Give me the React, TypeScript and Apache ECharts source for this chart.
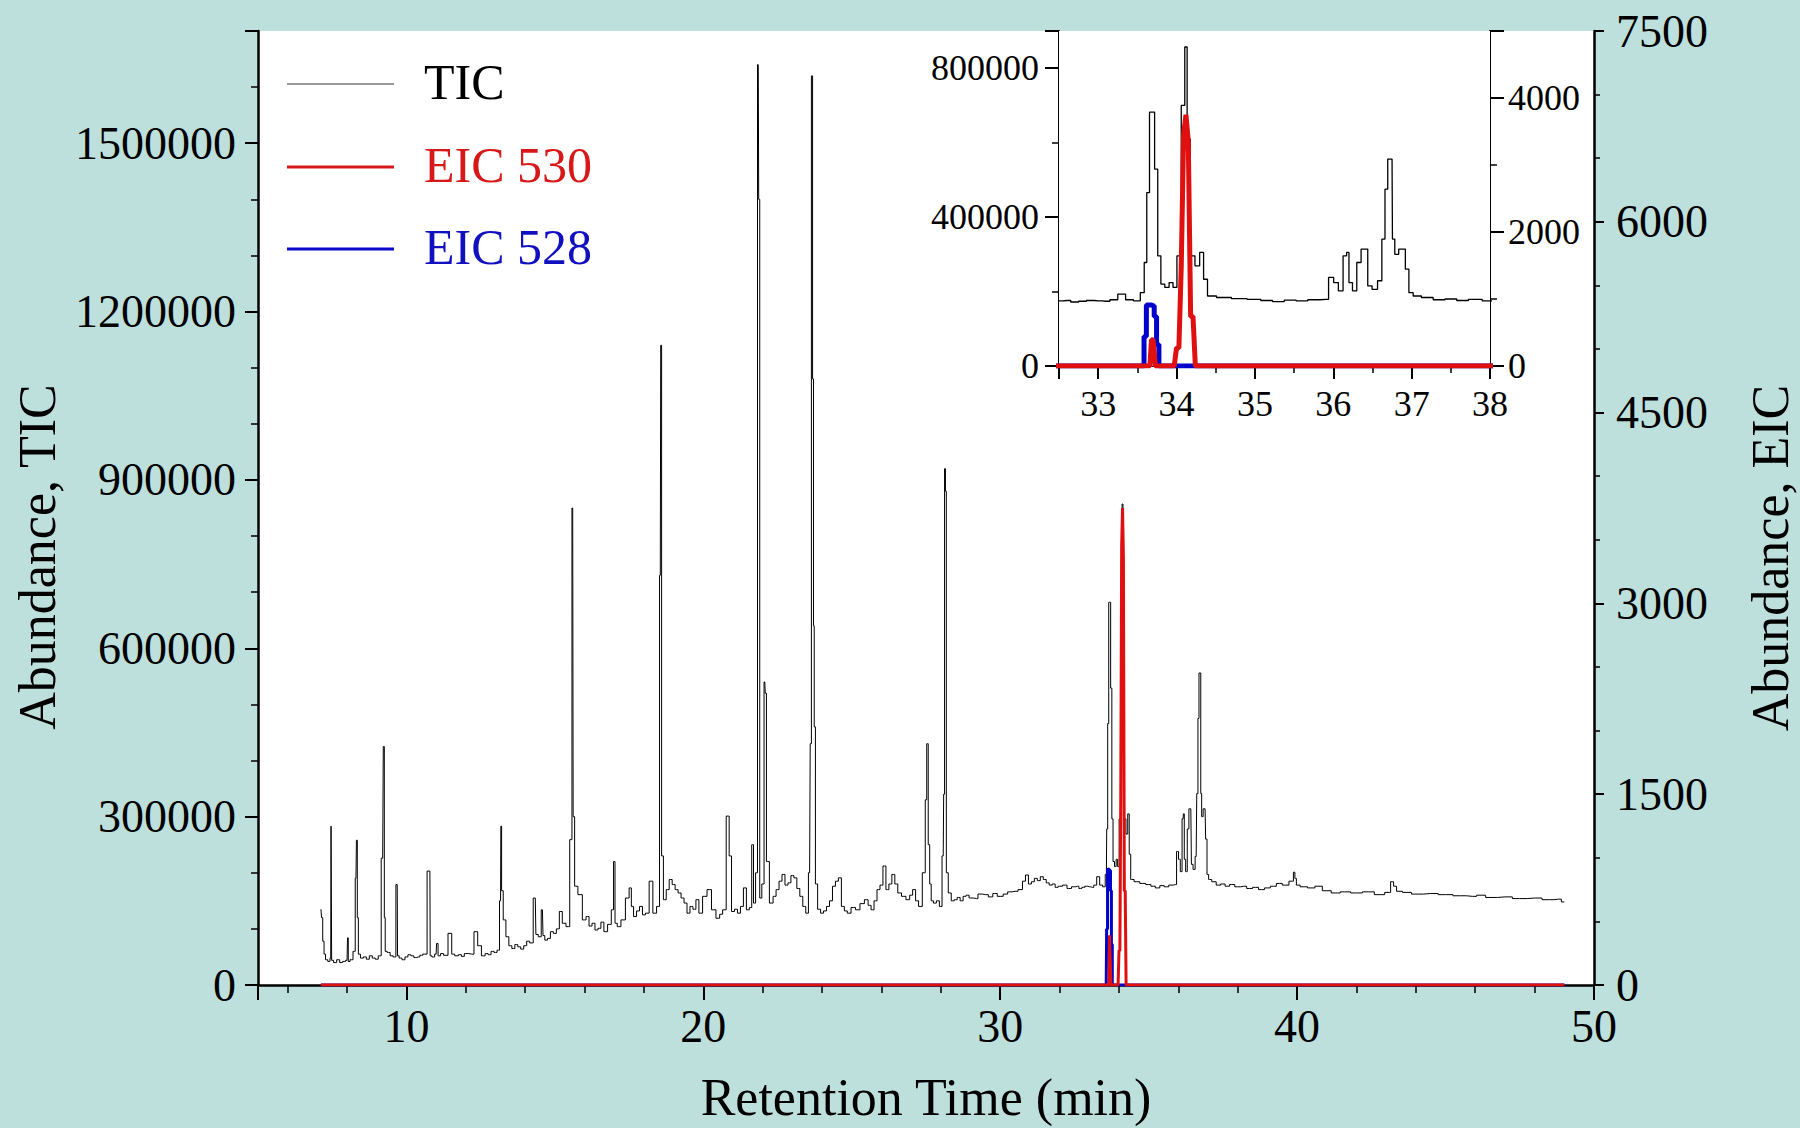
import React, { useEffect, useRef } from "react";
import * as echarts from "echarts";

// ---------- DATA ----------
// Total ion chromatogram: retention time (min)
const ticTime = [
  7.12, 7.16, 7.2, 7.25, 7.3, 7.4, 7.45, 7.47, 7.49, 7.6,
  7.7, 7.8, 7.9, 8.0, 8.03, 8.05, 8.15, 8.25, 8.3, 8.33,
  8.36, 8.4, 8.5, 8.6, 8.7, 8.8, 8.9, 9.0, 9.1, 9.2,
  9.24, 9.27, 9.3, 9.4, 9.5, 9.6, 9.69, 9.71, 9.8, 9.9,
  10.0, 10.1, 10.2, 10.3, 10.4, 10.5, 10.6, 10.79, 10.81, 10.9,
  11.0, 11.03, 11.1, 11.2, 11.3, 11.5, 11.55, 11.7, 11.8, 11.9,
  12.0, 12.2, 12.35, 12.45, 12.6, 12.7, 12.8, 12.9, 13.0, 13.1,
  13.17, 13.19, 13.22, 13.3, 13.4, 13.5, 13.6, 13.7, 13.8, 13.9,
  14.0, 14.1, 14.2, 14.34, 14.38, 14.5, 14.58, 14.62, 14.7, 14.8,
  14.9, 15.0, 15.1, 15.2, 15.3, 15.45, 15.55, 15.6, 15.63, 15.7,
  15.85, 16.0, 16.1, 16.2, 16.3, 16.4, 16.5, 16.6, 16.7, 16.85,
  16.95, 17.0, 17.05, 17.15, 17.3, 17.45, 17.55, 17.6, 17.7, 17.8,
  17.9, 18.0, 18.1, 18.25, 18.35, 18.5, 18.55, 18.58, 18.61, 18.7,
  18.8, 18.9, 19.0, 19.1, 19.2, 19.3, 19.4, 19.5, 19.6, 19.7,
  19.8, 19.9, 20.05, 20.2, 20.35, 20.5, 20.6, 20.7, 20.84, 20.9,
  21.0, 21.1, 21.2, 21.3, 21.4, 21.5, 21.6, 21.66, 21.72, 21.8,
  21.85, 21.88, 21.92, 22.02, 22.07, 22.1, 22.15, 22.3, 22.4, 22.5,
  22.6, 22.7, 22.8, 22.9, 23.0, 23.1, 23.2, 23.3, 23.4, 23.5,
  23.58, 23.62, 23.66, 23.7, 23.72, 23.75, 23.8, 23.9, 24.0, 24.1,
  24.2, 24.3, 24.4, 24.5, 24.6, 24.7, 24.8, 24.9, 25.05, 25.2,
  25.35, 25.5, 25.6, 25.7, 25.8, 25.9, 26.0, 26.1, 26.2, 26.3,
  26.4, 26.5, 26.6, 26.75, 26.9, 27.0, 27.1, 27.2, 27.3, 27.45,
  27.5, 27.55, 27.6, 27.65, 27.7, 27.8, 27.9, 28.0, 28.08, 28.11,
  28.14, 28.17, 28.2, 28.3, 28.4, 28.5, 28.6, 28.7, 28.8, 28.9,
  29.0, 29.2, 29.3, 29.5, 29.7, 29.8, 30.0, 30.2, 30.3, 30.5,
  30.7, 30.8, 30.9, 31.0, 31.1, 31.2, 31.3, 31.4, 31.5, 31.6,
  31.7, 31.8, 31.9, 32.0, 32.2, 32.3, 32.5, 32.6, 32.7, 32.8,
  32.9, 33.0, 33.1, 33.2, 33.3, 33.4, 33.5, 33.575, 33.6, 33.64,
  33.67, 33.7, 33.74, 33.78, 33.82, 33.88, 33.93, 33.98, 34.03, 34.09,
  34.12, 34.15, 34.2, 34.27, 34.32, 34.37, 34.42, 34.6, 34.8, 35.0,
  35.15, 35.3, 35.45, 35.6, 35.75, 35.91, 35.97, 36.04, 36.09, 36.16,
  36.18, 36.22, 36.27, 36.33, 36.38, 36.42, 36.46, 36.53, 36.6, 36.64,
  36.68, 36.71, 36.75, 36.76, 36.81, 36.86, 36.9, 36.94, 36.99, 37.05,
  37.2, 37.35, 37.5, 37.65, 37.8, 38.0, 38.2, 38.4, 38.6, 38.8,
  39.0, 39.2, 39.4, 39.6, 39.85, 39.9, 39.95, 40.0, 40.2, 40.5,
  40.7, 41.0, 41.3, 41.6, 42.0, 42.4, 42.8, 43.1, 43.2, 43.3,
  43.4, 43.7, 44.0, 44.5, 45.0, 45.5, 45.9, 46.2, 46.5, 47.0,
  47.5, 48.0, 48.5, 48.8, 49.0,
];
// Total ion chromatogram: abundance
const ticValue = [
  135000, 120000, 78000, 55000, 45000, 42000, 48000, 283000, 44000, 40000,
  45000, 40000, 42000, 44000, 84000, 42000, 45000, 60000, 190000, 258000,
  120000, 55000, 48000, 50000, 46000, 52000, 48000, 46000, 52000, 226000,
  425000, 120000, 60000, 58000, 52000, 50000, 179000, 52000, 48000, 45000,
  50000, 54000, 52000, 49000, 50000, 53000, 55000, 203000, 52000, 50000,
  55000, 74000, 52000, 56000, 53000, 92000, 55000, 52000, 54000, 51000,
  56000, 55000, 95000, 70000, 52000, 56000, 54000, 60000, 58000, 62000,
  150000, 283000, 168000, 116000, 86000, 70000, 65000, 72000, 68000, 64000,
  70000, 78000, 75000, 155000, 90000, 86000, 134000, 88000, 80000, 83000,
  95000, 92000, 100000, 131000, 110000, 104000, 259000, 850000, 300000, 176000,
  161000, 116000, 122000, 105000, 110000, 98000, 101000, 112000, 95000, 108000,
  134000, 220000, 110000, 104000, 116000, 155000, 173000, 140000, 122000, 132000,
  140000, 125000, 128000, 185000, 128000, 140000, 730000, 1140000, 230000, 152000,
  170000, 188000, 179000, 170000, 164000, 155000, 146000, 128000, 140000, 135000,
  152000, 128000, 158000, 170000, 134000, 119000, 126000, 134000, 301000, 230000,
  131000, 135000, 128000, 140000, 173000, 134000, 138000, 250000, 146000, 200000,
  1640000, 1400000, 155000, 180000, 540000, 520000, 220000, 146000, 158000, 170000,
  185000, 197000, 178000, 182000, 195000, 191000, 172000, 158000, 140000, 128000,
  200000, 430000, 1620000, 1080000, 640000, 460000, 180000, 135000, 128000, 132000,
  140000, 150000, 176000, 185000, 191000, 140000, 132000, 128000, 138000, 134000,
  145000, 152000, 142000, 134000, 150000, 170000, 178000, 212000, 170000, 180000,
  197000, 180000, 164000, 158000, 152000, 160000, 170000, 150000, 140000, 200000,
  330000, 430000, 250000, 180000, 150000, 146000, 150000, 140000, 230000, 340000,
  920000, 880000, 200000, 164000, 150000, 152000, 156000, 150000, 158000, 160000,
  155000, 154000, 162000, 161000, 157000, 163000, 158000, 162000, 166000, 167000,
  170000, 185000, 196000, 180000, 184000, 190000, 186000, 193000, 188000, 182000,
  178000, 180000, 174000, 176000, 178000, 172000, 175000, 176000, 172000, 174000,
  176000, 175000, 174000, 178000, 193000, 178000, 175000, 197000, 278000, 466000,
  682000, 682000, 529000, 296000, 220000, 211000, 224000, 211000, 296000, 700000,
  857000, 610000, 296000, 269000, 305000, 233000, 188000, 184000, 181000, 179000,
  176000, 173000, 177000, 175000, 178000, 179000, 238000, 224000, 202000, 296000,
  305000, 224000, 202000, 278000, 314000, 314000, 215000, 206000, 229000, 341000,
  475000, 556000, 556000, 341000, 300000, 314000, 314000, 260000, 197000, 188000,
  184000, 178000, 180000, 176000, 179000, 175000, 176000, 172000, 174000, 170000,
  173000, 176000, 181000, 178000, 185000, 201000, 190000, 178000, 175000, 173000,
  176000, 168000, 164000, 166000, 164000, 166000, 161000, 165000, 184000, 176000,
  167000, 165000, 162000, 163000, 161000, 159000, 158000, 160000, 156000, 157000,
  154000, 155000, 152000, 153000, 148000,
];

// Extracted ion chromatogram m/z 530
const eic530Time = [7.12, 33.62, 33.66, 33.68, 33.7, 33.73, 33.97, 34.0, 34.03, 34.06, 34.09, 34.12, 34.15, 34.18, 34.21, 34.24, 34.26, 49.0];
const eic530Value = [0, 0, 0, 390, 390, 0, 0, 270, 270, 1480, 3450, 3750, 3350, 740, 740, 0, 0, 0];

// Extracted ion chromatogram m/z 528
const eic528Time = [7.12, 33.57, 33.6, 33.63, 33.66, 33.7, 33.73, 33.76, 33.79, 49.0];
const eic528Value = [0, 0, 440, 910, 910, 900, 740, 320, 0, 0];

const legendNames = ["TIC", "EIC 530", "EIC 528"];
const axisTitles = { x: "Retention Time (min)", yLeft: "Abundance, TIC", yRight: "Abundance, EIC" };

// ---------- STYLE ----------
const FONT = "'Liberation Serif', 'Times New Roman', serif";
const BG = "#BEE0DC";
const RED = "#E01010";
const BLUE = "#0000CC";
const BLACK = "#000000";

const pairs = (t: number[], v: number[]) => t.map((x, i) => [x, v[i]]);

function axisCommon(fontSize: number, lineW: number, tickLen: number, minorLen: number, minorSplit: number, margin: number, fmt: (v: number) => string) {
  return {
    axisLine: { show: true, onZero: false, lineStyle: { color: BLACK, width: lineW } },
    axisTick: { show: true, inside: false, length: tickLen, lineStyle: { color: BLACK, width: 2 } },
    minorTick: { show: true, splitNumber: minorSplit, length: minorLen, lineStyle: { color: BLACK, width: 1.5 } },
    axisLabel: { show: true, fontSize, fontFamily: FONT, color: BLACK, margin, formatter: fmt },
    splitLine: { show: false },
    minorSplitLine: { show: false },
  };
}

export default function App() {
  const ref = useRef<HTMLDivElement>(null);

  useEffect(() => {
    if (!ref.current) return;
    const chart = echarts.init(ref.current, null, { renderer: "svg" });

    const tic = pairs(ticTime, ticValue);
    const e530 = pairs(eic530Time, eic530Value);
    const e528 = pairs(eic528Time, eic528Value);

    const legendY = [84, 167, 249];
    const legendColors = ["#9A9A9A", "#D81818", "#0A0AC8"];
    const legendTextColors = ["#000000", "#D81818", "#1010C0"];
    const legendLineW = [2, 3, 3];

    const graphic: any[] = [];
    legendNames.forEach((name, i) => {
      graphic.push({
        type: "line",
        shape: { x1: 287, y1: legendY[i], x2: 394, y2: legendY[i] },
        style: { stroke: legendColors[i], lineWidth: legendLineW[i] },
        z: 100,
      });
      graphic.push({
        type: "text",
        x: 424,
        y: legendY[i] - 2,
        style: {
          text: name,
          fontSize: 50,
          fontFamily: FONT,
          fill: legendTextColors[i],
          align: "left",
          verticalAlign: "middle",
        },
        z: 100,
      });
    });
    graphic.push({
      type: "text",
      x: 37,
      y: 557,
      rotation: Math.PI / 2,
      style: { text: axisTitles.yLeft, fontSize: 52, fontFamily: FONT, fill: BLACK, align: "center", verticalAlign: "middle" },
    });
    graphic.push({
      type: "text",
      x: 1770,
      y: 558,
      rotation: Math.PI / 2,
      style: { text: axisTitles.yRight, fontSize: 52, fontFamily: FONT, fill: BLACK, align: "center", verticalAlign: "middle" },
    });

    const option: any = {
      animation: false,
      backgroundColor: BG,
      textStyle: { fontFamily: FONT },
      grid: [
        { left: 258, right: 206, top: 31, bottom: 140, show: true, backgroundColor: "#FFFFFF", borderWidth: 0 },
        { left: 1059, right: 310, top: 31, height: 335, show: true, backgroundColor: "#FFFFFF", borderWidth: 0, z: 3 },
      ],
      xAxis: [
        {
          type: "value",
          gridIndex: 0,
          min: 5,
          max: 50,
          splitNumber: 5,
          name: axisTitles.x,
          nameLocation: "middle",
          nameGap: 86,
          nameTextStyle: { fontSize: 52, fontFamily: FONT, color: BLACK },
          ...axisCommon(46, 2.5, 15, 8, 5, 18, (v: number) => (v % 10 === 0 ? String(v) : "")),
        },
        {
          type: "value",
          gridIndex: 1,
          min: 32.5,
          max: 38,
          splitNumber: 5,
          ...axisCommon(36, 2, 13, 7, 2, 20, (v: number) => (Number.isInteger(v) ? String(v) : "")),
        },
      ],
      yAxis: [
        {
          type: "value",
          gridIndex: 0,
          position: "left",
          min: 0,
          max: 1700000,
          interval: 300000,
          ...axisCommon(46, 2.5, 13, 7, 3, 22, (v: number) => (v % 300000 === 0 ? String(v) : "")),
        },
        {
          type: "value",
          gridIndex: 0,
          position: "right",
          min: 0,
          max: 7500,
          interval: 1500,
          ...axisCommon(46, 2.5, 10, 6, 3, 22, (v: number) => String(v)),
        },
        {
          type: "value",
          gridIndex: 1,
          position: "left",
          min: 0,
          max: 900000,
          interval: 400000,
          ...axisCommon(36, 2, 14, 7, 2, 20, (v: number) => (v % 400000 === 0 ? String(v) : "")),
        },
        {
          type: "value",
          gridIndex: 1,
          position: "right",
          min: 0,
          max: 5000,
          interval: 2000,
          ...axisCommon(36, 2, 14, 7, 2, 18, (v: number) => (v % 2000 === 0 ? String(v) : "")),
        },
      ],
      series: [
        {
          name: "TIC",
          type: "line",
          xAxisIndex: 0,
          yAxisIndex: 0,
          data: tic,
          step: "middle",
          symbol: "none",
          showSymbol: false,
          silent: true,
          lineStyle: { color: BLACK, width: 1 },
          z: 2,
        },
        {
          name: "EIC 528",
          type: "line",
          xAxisIndex: 0,
          yAxisIndex: 1,
          data: e528,
          step: "middle",
          symbol: "none",
          showSymbol: false,
          silent: true,
          lineStyle: { color: BLUE, width: 3 },
          z: 3,
        },
        {
          name: "EIC 530",
          type: "line",
          xAxisIndex: 0,
          yAxisIndex: 1,
          data: e530,
          symbol: "none",
          showSymbol: false,
          silent: true,
          lineStyle: { color: RED, width: 3 },
          z: 4,
        },
        {
          name: "TIC inset",
          type: "line",
          xAxisIndex: 1,
          yAxisIndex: 2,
          data: tic,
          step: "middle",
          symbol: "none",
          showSymbol: false,
          silent: true,
          clip: true,
          lineStyle: { color: BLACK, width: 1.3 },
          z: 5,
        },
        {
          name: "EIC 528 inset",
          type: "line",
          xAxisIndex: 1,
          yAxisIndex: 3,
          data: e528,
          step: "middle",
          symbol: "none",
          showSymbol: false,
          silent: true,
          clip: true,
          lineStyle: { color: BLUE, width: 5 },
          z: 6,
        },
        {
          name: "EIC 530 inset",
          type: "line",
          xAxisIndex: 1,
          yAxisIndex: 3,
          data: e530,
          symbol: "none",
          showSymbol: false,
          silent: true,
          clip: true,
          lineStyle: { color: RED, width: 5 },
          z: 7,
        },
      ],
      graphic,
    };

    chart.setOption(option);
    return () => chart.dispose();
  }, []);

  return (
    <div
      ref={ref}
      style={{ position: "fixed", left: 0, top: 0, width: 1800, height: 1128 }}
    />
  );
}
